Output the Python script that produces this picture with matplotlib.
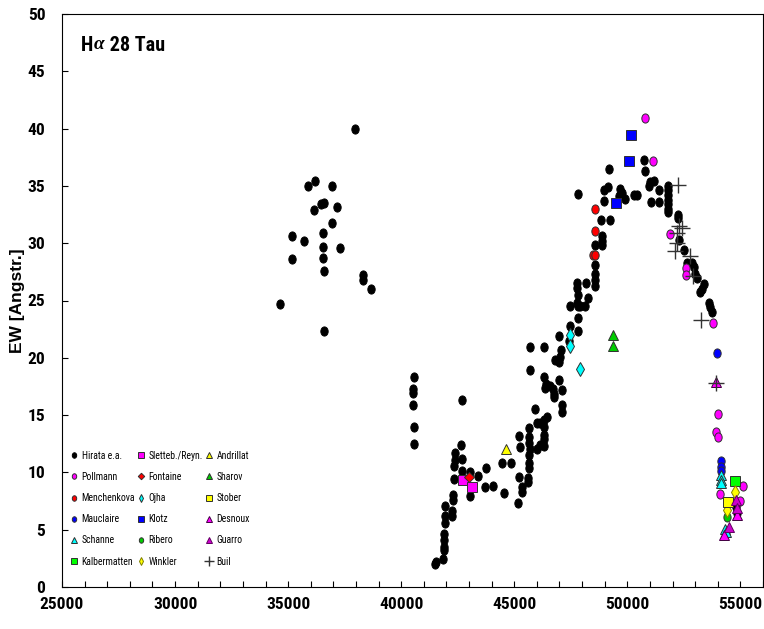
import matplotlib
matplotlib.use("Agg")
import matplotlib.pyplot as plt
from matplotlib import font_manager
from matplotlib.font_manager import FontProperties
from matplotlib.path import Path
from matplotlib.transforms import Affine2D
from matplotlib.ticker import MultipleLocator

# H-alpha equivalent width of 28 Tau (Pleione) vs Julian date - 2400000

hirata_jd = [
    34640, 35150, 35150, 35720, 35860, 36170, 36160, 36470, 36570, 36560, 36560,
    36560, 36590, 36570, 36950, 36950, 37170, 37280, 37970, 38290, 38290, 38660,
    40550, 40520, 40520, 40500, 40550, 40550,
    41510, 41530, 41850, 41900, 41900, 41900, 41900, 41920, 41920, 41920,
    42250, 42250, 42270, 42270, 42350, 42350, 42390, 42390, 42640, 42690, 42690, 42690,
    43050, 43050, 43400, 43690, 43760, 44060, 44460, 44530, 44850,
    45150, 45190, 45210, 45250, 45340, 45340, 45610, 45610, 45630, 45630, 45630, 45630, 45630, 45630,
    45710, 45710, 45710, 45930, 46000, 46000, 46150, 46150, 46300, 46300, 46300, 46300, 46300, 46300,
    46330, 46370, 46400, 46450, 46590, 46710, 46740, 46740, 46780, 46960, 46960, 47000,
    47030, 47080, 47110, 47110, 47110,
    47400, 47480, 47480, 47770, 47770, 47770, 47800, 47800, 47800, 47820, 47840, 47920,
    48140, 48180, 48240,
    48550, 48580, 48580, 48580, 48580, 48850, 48880, 48880, 48880, 48950,
    48950, 49150, 49170, 49220, 49610, 49690, 49760, 49880, 50280, 50420,
    50720, 50760, 50940, 51010, 51050, 51160, 51400, 51400,
    51820, 51820, 51820, 51820, 51820, 51820, 51820,
    52220, 52260, 52270, 52490, 52640, 52860, 52930, 53000, 53080,
    53230, 53300, 53370, 53590, 53660, 53740,
    54820, 54830,
]
hirata_ew = [
    24.7, 30.6, 28.6, 30.2, 35.0, 35.4, 32.9, 33.4, 33.5, 30.9, 29.7,
    28.7, 27.6, 22.3, 35.0, 31.8, 33.2, 29.6, 40.0, 27.2, 26.8, 26.0,
    18.3, 17.3, 16.9, 15.9, 14.0, 12.5,
    2.0, 2.2, 2.4, 3.2, 3.5, 4.1, 4.6, 5.6, 6.2, 7.1,
    6.2, 6.6, 7.6, 8.0, 9.4, 10.6, 11.1, 11.7, 12.4, 11.2, 10.1, 16.3,
    10.0, 7.9, 9.7, 8.7, 10.4, 8.8, 10.8, 8.2, 10.8,
    7.3, 9.6, 13.2, 12.2, 8.7, 8.3, 9.5, 9.2, 10.8, 10.4, 11.5, 12.6, 13.1, 13.9,
    12.0, 18.9, 20.9, 15.5, 14.3, 12.0, 12.4, 14.3, 14.0, 13.3, 12.9, 12.3, 14.6, 18.3,
    20.9, 17.4, 17.7, 14.8, 17.5, 17.3, 16.8, 16.6, 19.8, 19.6, 21.9, 18.1,
    20.1, 20.7, 17.2, 15.9, 15.3,
    21.5, 22.8, 24.5, 24.8, 26.1, 26.5, 22.3, 23.5, 24.5, 25.5, 34.3, 24.5,
    24.5, 26.5, 25.2,
    29.8, 28.1, 27.3, 26.8, 26.3, 32.0, 30.6, 30.2, 29.8, 34.6,
    33.7, 34.9, 36.5, 32.0, 34.1, 34.7, 34.4, 33.9, 34.2, 34.2,
    37.3, 36.3, 35.0, 35.3, 33.6, 35.4, 34.6, 33.6,
    35.0, 34.6, 34.2, 33.8, 33.4, 33.0, 32.7,
    32.2, 32.5, 30.3, 29.4, 28.3, 28.3, 27.9, 27.3, 27.0,
    25.7, 26.0, 26.4, 24.8, 24.4, 24.0,
    7.0, 6.5,
]

pollmann_jd = [50790, 51130, 51870, 52590, 52600, 53770, 53990, 53920, 54010, 54110, 55100, 54990]
pollmann_ew = [40.9, 37.2, 30.8, 27.85, 27.2, 23.0, 15.1, 13.5, 13.1, 8.1, 8.8, 7.5]

menchenkova_jd = [48550, 48580, 48480, 48580]
menchenkova_ew = [33.0, 31.1, 29.0, 29.0]

mauclaire_jd = [53950, 54150, 54150, 54150]
mauclaire_ew = [20.4, 11.0, 10.5, 10.1]

schanne_jd = [54140, 54140, 54140, 54330, 54350]
schanne_ew = [9.8, 9.35, 9.06, 5.1, 4.8]

kalbermatten_jd = [54780]
kalbermatten_ew = [9.27]

sletteb_jd = [42720, 43110]
sletteb_ew = [9.3, 8.7]

fontaine_jd = [42980]
fontaine_ew = [9.6]

ojha_jd = [47450, 47480, 47890]
ojha_ew = [22.0, 21.0, 19.0]

klotz_jd = [50170, 50060, 49520]
klotz_ew = [39.4, 37.2, 33.5]

ribero_jd = [54400]
ribero_ew = [6.15]

winkler_jd = [54780, 54400]
winkler_ew = [8.33, 6.7]

andrillat_jd = [44620]
andrillat_ew = [12.0]

sharov_jd = [49350, 49350]
sharov_ew = [22.0, 21.0]

stober_jd = [54450]
stober_ew = [7.4]

desnoux_jd = [53920, 54260, 54850]
desnoux_ew = [17.9, 4.55, 6.3]

guarro_jd = [54480, 54810, 54830]
guarro_ew = [5.25, 7.6, 6.9]

buil_jd = [52220, 52270, 52410, 52190, 52190, 52120, 52780, 52900, 53270, 53920]
buil_ew = [35.05, 31.5, 31.35, 30.9, 30.0, 29.3, 28.9, 27.1, 23.3, 17.8]


def find_font(keys):
    """Return the path of the first installed font file matching one of keys."""
    files = [f.fname for f in font_manager.fontManager.ttflist]
    for key in keys:
        for fn in files:
            if key.lower() in fn.replace(" ", "").replace("_", "").lower():
                return fn
    return None


bold_narrow = find_font(["LiberationSansNarrow-Bold.", "ArialNarrowBold", "RobotoCondensed-Bold.",
                         "NotoSans-CondensedBold.", "OpenSansCondensed-Bold", "OpenSans-CondensedBold"])
reg_narrow = find_font(["LiberationSansNarrow-Regular.", "RobotoCondensed-Regular.",
                        "NotoSans-Condensed.", "OpenSans-CondensedRegular"])

if bold_narrow:
    tick_fp = FontProperties(fname=bold_narrow, size=12.5)
    title_fp = FontProperties(fname=bold_narrow, size=14.5)
else:
    tick_fp = FontProperties(family="Liberation Sans", weight="bold", size=11)
    title_fp = FontProperties(family="Liberation Sans", weight="bold", size=13)
if reg_narrow:
    legend_fp = FontProperties(fname=reg_narrow, size=7)
else:
    legend_fp = FontProperties(family="Liberation Sans", size=6.4)

# rounded "diamond" blob used by Excel for the dense black points
BLOB = Path.unit_circle().transformed(Affine2D().scale(0.8, 1.0))
EDGE = "#303030"

# label, x, y, marker, face, edge, size
series = [
    ("Hirata e.a.", hirata_jd, hirata_ew, BLOB, "black", "black", 6.6),
    ("Pollmann", pollmann_jd, pollmann_ew, BLOB, "#FF00FF", EDGE, 6.6),
    ("Menchenkova", menchenkova_jd, menchenkova_ew, BLOB, "#FF0000", EDGE, 6.6),
    ("Mauclaire", mauclaire_jd, mauclaire_ew, BLOB, "#0000FF", EDGE, 6.6),
    ("Schanne", schanne_jd, schanne_ew, "^", "#00FFFF", EDGE, 6.5),
    ("Kalbermatten", kalbermatten_jd, kalbermatten_ew, "s", "#00FF00", EDGE, 6.5),
    ("Sletteb./Reyn.", sletteb_jd, sletteb_ew, "s", "#FF00FF", EDGE, 6.5),
    ("Fontaine", fontaine_jd, fontaine_ew, "D", "#FF0000", EDGE, 5.5),
    ("Ojha", ojha_jd, ojha_ew, "d", "#00FFFF", EDGE, 7.0),
    ("Klotz", klotz_jd, klotz_ew, "s", "#0000FF", EDGE, 6.5),
    ("Ribero", ribero_jd, ribero_ew, BLOB, "#00CC00", EDGE, 6.5),
    ("Winkler", winkler_jd, winkler_ew, "d", "#FFFF00", "#808000", 7.0),
    ("Andrillat", andrillat_jd, andrillat_ew, "^", "#FFFF00", EDGE, 6.5),
    ("Sharov", sharov_jd, sharov_ew, "^", "#00CC00", EDGE, 6.5),
    ("Stober", stober_jd, stober_ew, "s", "#FFFF00", EDGE, 6.5),
    ("Desnoux", desnoux_jd, desnoux_ew, "^", "#FF00FF", "#400040", 6.5),
    ("Guarro", guarro_jd, guarro_ew, "^", "#CC00CC", "#600060", 6.5),
    ("Buil", buil_jd, buil_ew, "+", "#333333", "#333333", 12),
]

fig = plt.figure(figsize=(7.64, 6.29), dpi=100)
ax = fig.add_axes([62 / 764, 42 / 629, 701 / 764, 573 / 629])

for label, xs, ys, marker, face, edge, size in series:
    ax.plot(xs, ys, linestyle="none", marker=marker, markersize=size,
            markerfacecolor=face, markeredgecolor=edge,
            markeredgewidth=1.0 if marker == "+" else 0.7, label=label)

ax.set_xlim(25000, 56000)
ax.set_ylim(0, 50)
ax.xaxis.set_major_locator(MultipleLocator(5000))
ax.xaxis.set_minor_locator(MultipleLocator(1000))
ax.yaxis.set_major_locator(MultipleLocator(5))
ax.tick_params(axis="both", which="both", direction="in", length=4, width=0.8,
               top=False, right=False)
ax.tick_params(axis="x", which="major", pad=7.5)
ax.tick_params(axis="y", which="major", pad=12)
for lab in ax.get_xticklabels() + ax.get_yticklabels():
    lab.set_fontproperties(tick_fp)
# nudge the "0" label up a touch so it clears the first date label
ax.get_yticklabels()[0].set_verticalalignment("bottom")

ax.set_ylabel("EW [Angstr.]", fontfamily="Liberation Sans", fontweight="bold",
              fontsize=12.5, labelpad=2)

# title: "H" + italic alpha + " 28 Tau"
title_kw = dict(transform=ax.transAxes, va="top", fontproperties=title_fp)
t1 = ax.text(0.027, 0.962, "H", ha="left", **title_kw)
fig.canvas.draw()
bb = t1.get_window_extent()
ax_bb = ax.get_window_extent()
x_alpha = (bb.x1 - ax_bb.x0 + 1) / ax_bb.width
t2 = ax.text(x_alpha, 0.962, "\u03b1", ha="left", transform=ax.transAxes, va="top",
             fontfamily="Liberation Serif", style="italic", fontweight="bold",
             fontsize=title_fp.get_size() * 0.95)
fig.canvas.draw()
bb2 = t2.get_window_extent()
x_rest = (bb2.x1 - ax_bb.x0) / ax_bb.width
ax.text(x_rest, 0.962, " 28 Tau", ha="left", **title_kw)

ax.legend(ncol=3, loc="upper left", bbox_to_anchor=(0.012, 0.238),
          frameon=False, borderpad=0, borderaxespad=0,
          handlelength=0.8, handletextpad=0.35, columnspacing=0.25,
          labelspacing=1.15 if reg_narrow else 1.25, markerscale=0.6,
          prop=legend_fp)

fig.savefig("out.png", dpi=100)
plt.close(fig)
